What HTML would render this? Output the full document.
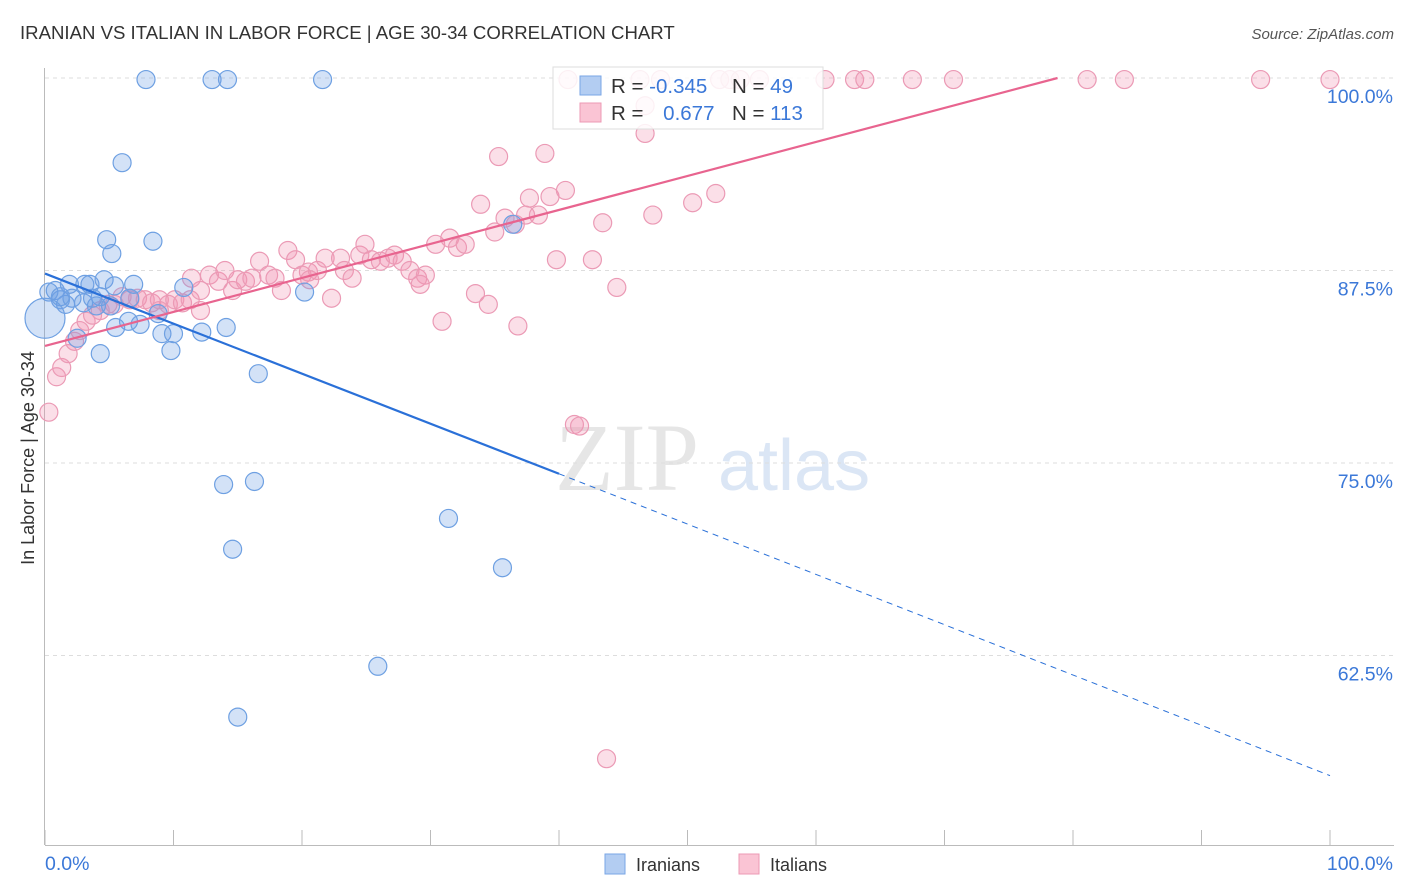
<!DOCTYPE html>
<html><head><meta charset="utf-8"><style>
body{margin:0;background:#fff;font-family:"Liberation Sans",sans-serif}
svg{display:block}
</style></head><body>
<svg id="c" width="1406" height="892">
<text x="20" y="39" font-size="18.6" fill="#333">IRANIAN VS ITALIAN IN LABOR FORCE | AGE 30-34 CORRELATION CHART</text>
<text x="1394" y="39" font-size="15" fill="#555" font-style="italic" text-anchor="end">Source: ZipAtlas.com</text>
<text x="34" y="458" font-size="18" fill="#333" text-anchor="middle" transform="rotate(-90 34 458)">In Labor Force | Age 30-34</text>
<text x="555" y="490" font-size="96" fill="#e6e6e6" font-family="Liberation Serif,serif">ZIP</text>
<text x="718" y="490" font-size="72" fill="#dbe6f5">atlas</text>
<g id="grid"></g><g id="axes"></g><g id="pts"></g><g id="lines"></g>
<g>
<rect x="553" y="67" width="270" height="62" fill="#fff" fill-opacity="0.85" stroke="#ddd"/>
<rect x="580" y="76" width="21" height="19" fill="#b3cdf2" stroke="#7aa6e6"/>
<rect x="580" y="103" width="21" height="19" fill="#fac4d4" stroke="#ec9ab4"/>
<text x="611" y="93" font-size="20.5" fill="#333">R = <tspan fill="#3b78d8">-0.345</tspan></text>
<text x="732" y="93" font-size="20.5" fill="#333">N = <tspan fill="#3b78d8"> 49</tspan></text>
<text x="611" y="120" font-size="20.5" fill="#333">R = <tspan fill="#3b78d8" dx="14">0.677</tspan></text>
<text x="732" y="120" font-size="20.5" fill="#333">N = <tspan fill="#3b78d8">113</tspan></text>
</g>
<g>
<rect x="605" y="854" width="20" height="20" fill="#b3cdf2" stroke="#7aa6e6"/>
<text x="636" y="871" font-size="18" fill="#333">Iranians</text>
<rect x="739" y="854" width="20" height="20" fill="#fac4d4" stroke="#ec9ab4"/>
<text x="770" y="871" font-size="18" fill="#333">Italians</text>
</g>
</svg>
<script>
const yTicks=[100,87.5,75,62.5];
const yTickLabels=["100.0%","87.5%","75.0%","62.5%"];
const xTickLabels=["0.0%","100.0%"];
const blueX=[7.86,13.0,14.2,21.6,6.0,4.8,5.2,8.4,0.3,0.8,1.2,1.6,1.9,3.1,3.5,4.3,4.6,5.4,6.9,6.6,4.0,3.0,2.1,5.5,6.5,7.4,9.1,10.0,12.2,14.1,10.8,8.8,2.5,4.3,9.8,16.6,20.2,36.4,13.9,16.3,14.6,31.4,35.6,25.9,15.0,5.1,1.2,3.7,0];
const blueY=[99.9,99.9,99.9,99.9,94.5,89.5,88.6,89.4,86.1,86.2,85.6,85.3,86.6,86.6,86.6,85.8,86.9,86.5,86.6,85.7,85.2,85.4,85.7,83.8,84.2,84.0,83.4,83.4,83.5,83.8,86.4,84.7,83.1,82.1,82.3,80.8,86.1,90.5,73.6,73.8,69.4,71.4,68.2,61.8,58.5,85.2,85.8,85.7,84.4];
const pinkX=[0.3,0.9,1.3,1.8,2.3,2.7,3.2,3.7,4.3,4.9,5.4,6.0,6.6,7.2,7.8,8.3,8.9,9.6,10.1,10.7,11.3,11.4,12.1,12.8,13.5,14.0,14.6,15.0,15.6,16.1,16.7,17.4,17.9,18.4,18.9,19.5,20.0,20.5,21.2,21.8,22.3,23.0,23.3,23.9,24.5,24.9,25.4,26.1,26.7,27.2,27.8,28.4,29.0,29.6,30.4,30.9,31.5,32.1,32.7,33.5,33.9,34.5,35.0,35.3,35.8,36.6,36.8,37.4,37.7,38.4,38.9,39.3,39.8,40.5,41.2,41.6,42.6,43.4,43.7,44.5,46.7,47.3,50.4,52.2,60.7,63.0,63.8,67.5,70.7,81.1,84.0,94.6,100,40.7,46.3,47.9,52.5,53.3,55.6,54.1,46.7,29.2,20.6,8.9,12.1];
const pinkY=[78.3,80.6,81.2,82.1,82.9,83.6,84.2,84.6,84.9,85.3,85.3,85.8,85.6,85.7,85.6,85.4,85.6,85.3,85.6,85.4,85.6,87.0,86.2,87.2,86.8,87.5,86.2,86.9,86.8,87.0,88.1,87.2,87.0,86.2,88.8,88.2,87.2,87.4,87.5,88.3,85.7,88.3,87.5,87.0,88.5,89.2,88.2,88.1,88.3,88.5,88.1,87.5,87.0,87.2,89.2,84.2,89.6,89.0,89.2,86.0,91.8,85.3,90.0,94.9,90.9,90.5,83.9,91.1,92.2,91.1,95.1,92.3,88.2,92.7,77.5,77.4,88.2,90.6,55.8,86.4,96.4,91.1,91.9,92.5,99.9,99.9,99.9,99.9,99.9,99.9,99.9,99.9,99.9,99.9,99.9,99.9,99.9,99.9,99.9,99.9,98.2,86.6,86.9,84.9,84.9];
const blueLine=[[0,87.3],[40,74.3],[100,54.7]];
const pinkLine=[[0,82.6],[78.8,100]];
const NS="http://www.w3.org/2000/svg";
const X=v=>45+v*12.85, Y=v=>78+(100-v)*15.4;
function mk(t,a,p){const e=document.createElementNS(NS,t);for(const k in a)e.setAttribute(k,a[k]);p.appendChild(e);return e;}
const grid=document.getElementById('grid'),axes=document.getElementById('axes'),pts=document.getElementById('pts'),lines=document.getElementById('lines');
yTicks.forEach((t,i)=>{
 const l=mk('line',{x1:45,x2:1394,y1:Y(t),y2:Y(t),stroke:'#ddd','stroke-dasharray':'4,4'},grid);
 
 
 const tx=mk('text',{x:1393,y:Y(t)+25,'font-size':19.5,fill:'#3b78d8','text-anchor':'end'},axes);
 tx.textContent=yTickLabels[i];
 
 
});
mk('line',{x1:44.5,x2:44.5,y1:68,y2:845,stroke:'#bbb'},axes);
mk('line',{x1:45,x2:1394,y1:845.5,y2:845.5,stroke:'#bbb'},axes);
for(let i=0;i<=10;i++){const x=X(i*10);mk('line',{x1:x,x2:x,y1:830,y2:845,stroke:'#bbb'},axes);}
const xl0=mk('text',{x:45,y:870,'font-size':19.5,fill:'#3b78d8'},axes);xl0.textContent=xTickLabels[0];


const xl1=mk('text',{x:1393,y:870,'font-size':19.5,fill:'#3b78d8','text-anchor':'end'},axes);xl1.textContent=xTickLabels[1];


pinkX.forEach((v,i)=>{const c=mk('circle',{cx:X(v),cy:Y(pinkY[i]),r:9,fill:'rgba(242,150,180,0.3)',stroke:'#eb9ab5','stroke-width':1.2},pts);
 
 });
blueX.forEach((v,i)=>{const big=i===blueX.length-1;const c=mk('circle',{cx:X(v),cy:Y(blueY[i]),r:big?20:9,fill:'rgba(110,160,230,0.3)',stroke:'#6ea0e2','stroke-width':1.2},pts);
 
 });
const b1=mk('line',{x1:X(blueLine[0][0]),y1:Y(blueLine[0][1]),x2:X(blueLine[1][0]),y2:Y(blueLine[1][1]),stroke:'#2a70d8','stroke-width':2.2},lines);


const b2=mk('line',{x1:X(blueLine[1][0]),y1:Y(blueLine[1][1]),x2:X(blueLine[2][0]),y2:Y(blueLine[2][1]),stroke:'#2a70d8','stroke-width':1,'stroke-dasharray':'6,5'},lines);


const p1=mk('line',{x1:X(pinkLine[0][0]),y1:Y(pinkLine[0][1]),x2:X(pinkLine[1][0]),y2:Y(pinkLine[1][1]),stroke:'#e8648f','stroke-width':2.2},lines);


</script>
</body></html>
